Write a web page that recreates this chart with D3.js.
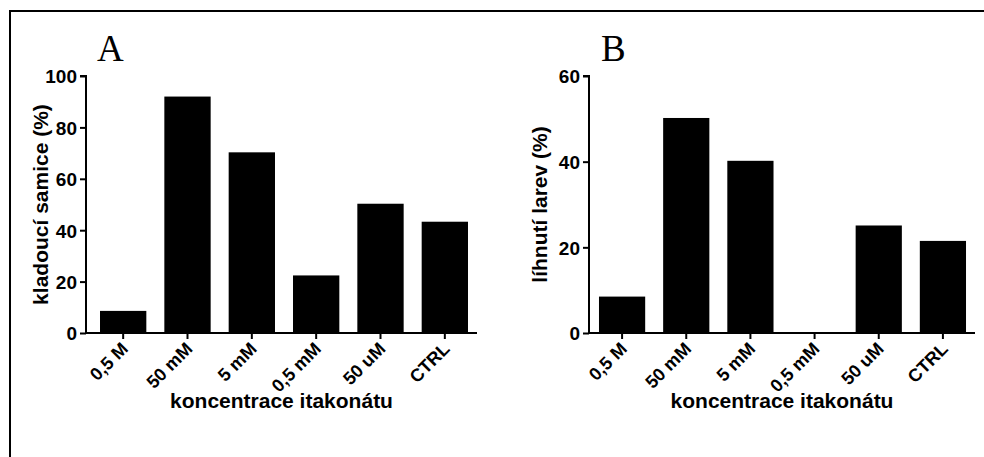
<!DOCTYPE html>
<html>
<head>
<meta charset="utf-8">
<script src="https://cdn.jsdelivr.net/npm/d3@7"></script>
<style>
  body { margin: 0; background: #fff; }
  text { font-family: "Liberation Sans", Arial, sans-serif; font-weight: bold; fill: #000; }
  .letter { font-family: "Liberation Serif", "Times New Roman", serif; font-weight: normal; }
</style>
</head>
<body>
<div id="chart"></div>
<script>
// data
const categories = ["0,5 M", "50 mM", "5 mM", "0,5 mM", "50 uM", "CTRL"];
const layingFemales = [8.6, 92, 70.3, 22.4, 50.3, 43.3];   // A
const larvaeHatched = [8.5, 50.2, 40.2, 0, 25.1, 21.5];     // B
const ticksA = [0, 20, 40, 60, 80, 100];
const ticksB = [0, 20, 40, 60];

const W = 984, H = 457;

const svg = d3.select("#chart")
  .append("svg")
    .attr("width", W)
    .attr("height", H);

// frame
svg.append("path")
  .attr("d", `M10,${H + 2} L10,11 L${W + 2},11`)
  .attr("fill", "none")
  .attr("stroke", "#000")
  .attr("stroke-width", 2);

const yTop = 76, yBottom = 333;

function drawPanel(opts) {
  const g = svg.append("g");

  const x = d3.scaleBand()
    .domain(categories)
    .range([opts.x0, opts.x1])
    .paddingInner(0.28)
    .paddingOuter(0.14);

  const y = d3.scaleLinear()
    .domain([0, opts.max])
    .range([yBottom, yTop]);

  g.selectAll(".bar")
    .data(opts.values)
    .enter()
    .append("rect")
    .attr("class", "bar")
    .attr("x", (d, i) => x(categories[i]))
    .attr("width", x.bandwidth())
    .attr("y", d => y(d))
    .attr("height", d => yBottom - y(d))
    .attr("fill", "#000");

  // y axis
  const yAxis = g.append("g")
    .attr("transform", `translate(${opts.axisX},0)`)
    .call(d3.axisLeft(y).tickValues(opts.ticks).tickSize(6).tickPadding(3));
  yAxis.selectAll("path, line").attr("stroke", "#000").attr("stroke-width", 2);
  yAxis.select(".domain").attr("d", `M-6,${yTop}H0V${yBottom}`);
  yAxis.selectAll("text").attr("font-size", 19).attr("dy", "0.36em");

  // x axis
  const xAxis = g.append("g")
    .attr("transform", `translate(0,${yBottom})`)
    .call(d3.axisBottom(x).tickSize(6).tickSizeOuter(0));
  xAxis.selectAll("path, line").attr("stroke", "#000").attr("stroke-width", 2);
  xAxis.select(".domain").attr("d", `M${opts.axisX - 1},0H${opts.x1}`);
  xAxis.selectAll("text")
    .attr("font-size", 18)
    .attr("text-anchor", "end")
    .attr("dy", null)
    .attr("y", 0)
    .attr("transform", "translate(6,17) rotate(-45)");

  // axis titles
  g.append("text")
    .attr("transform", `translate(${opts.labelX},${(yTop + yBottom) / 2}) rotate(-90)`)
    .attr("text-anchor", "middle")
    .attr("font-size", 21)
    .text(opts.yLabel);

  g.append("text")
    .attr("x", (opts.axisX + opts.x1) / 2)
    .attr("y", 408)
    .attr("text-anchor", "middle")
    .attr("font-size", 21)
    .text("koncentrace itakonátu");

  g.append("text")
    .attr("class", "letter")
    .attr("x", opts.letterX)
    .attr("y", 61)
    .attr("font-size", 37)
    .text(opts.letter);
}

drawPanel({
  values: layingFemales, max: 100, ticks: ticksA,
  axisX: 86, x0: 91, x1: 477,
  labelX: 48, yLabel: "kladoucí samice (%)",
  letter: "A", letterX: 97
});

drawPanel({
  values: larvaeHatched, max: 60, ticks: ticksB,
  axisX: 589, x0: 590, x1: 975,
  labelX: 547, yLabel: "líhnutí larev (%)",
  letter: "B", letterX: 601
});
</script>
</body>
</html>
